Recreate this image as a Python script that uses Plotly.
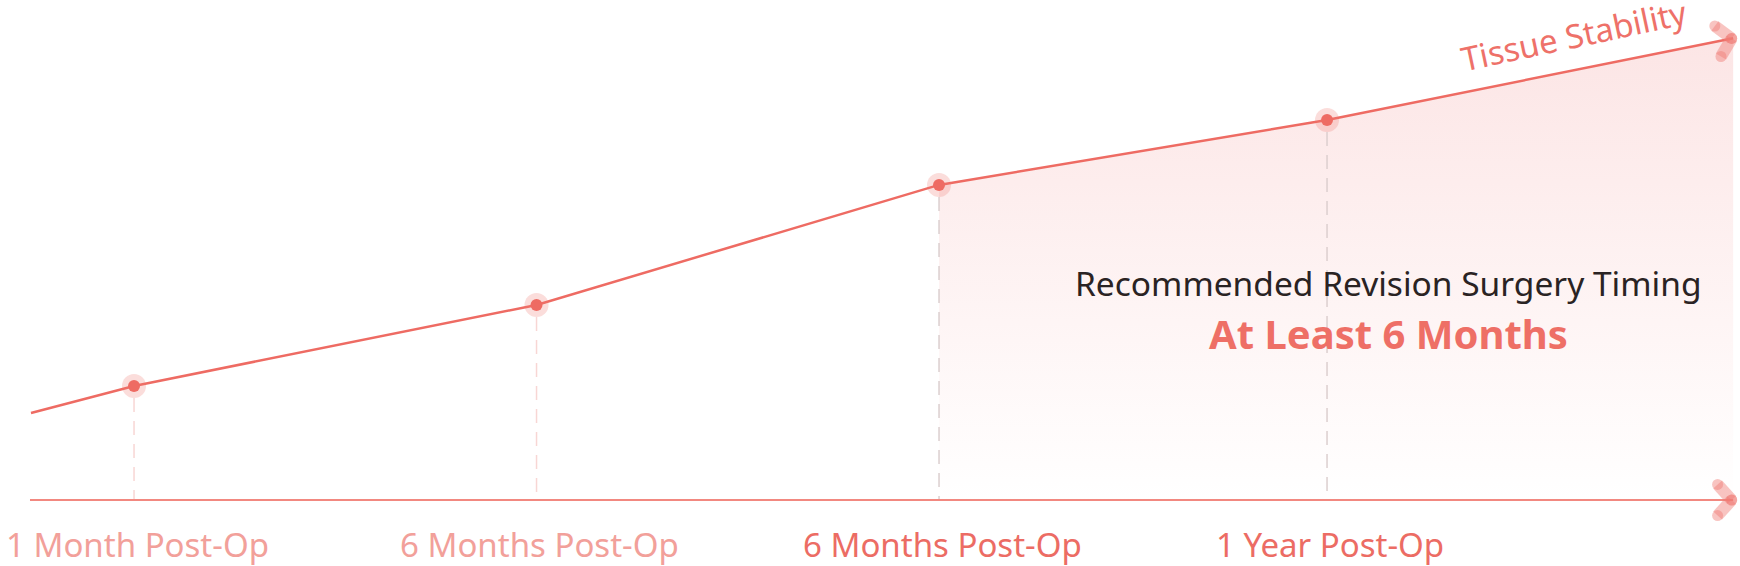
import math
import plotly.graph_objects as go

# ---- data ----
stages = ["1 Month Post-Op", "6 Months Post-Op", "6 Months Post-Op", "1 Year Post-Op"]
stage_x = [0.0, 1.0, 2.0, 2.964]
stability = [24.8, 42.4, 68.5, 82.6]
line_start_x, line_start_y = -0.256, 18.9
line_end_x, line_end_y = 3.973, 100.4
recommend_from_index = 2
axis_label = "Tissue Stability"
note_title = "Recommended Revision Surgery Timing"
note_value = "At Least 6 Months"

# ---- styling ----
W, H = 1740, 566
XR = [-0.333, 3.990]
YR = [-14.35, 108.7]
RED = "#ee6b63"
LIGHT_LABEL = "#f2a09a"
DARK_LABEL = "#ec6c64"
FONT = "Noto Sans"

px_per_x = W / (XR[1] - XR[0])
px_per_y = H / (YR[1] - YR[0])

def offset(x, y, dpx, dpy):
    """shift a data point by screen pixel offsets (dpy positive = down)"""
    return x + dpx / px_per_x, y - dpy / px_per_y

fig = go.Figure()

# gradient fill for recommended zone
fx = stage_x[recommend_from_index:] + [line_end_x]
fy = stability[recommend_from_index:] + [line_end_y]
fig.add_trace(go.Scatter(
    x=fx, y=fy, mode="lines", line=dict(width=0), fill="tozeroy",
    fillgradient=dict(type="vertical", start=0, stop=100,
                      colorscale=[[0, "#ffffff"], [0.08, "#fffdfd"], [1, "#fce5e5"]]),
    hoverinfo="skip", showlegend=False))

# dashed drop lines
for i, (x, y) in enumerate(zip(stage_x, stability)):
    col = "#f8d6d4" if i < recommend_from_index else "#dccfcf"
    _, ytop = offset(x, y, 0, 12)
    fig.add_trace(go.Scatter(x=[x, x], y=[ytop, 0], mode="lines",
                             line=dict(color=col, width=1.5, dash="14px,9px"),
                             hoverinfo="skip", showlegend=False))

# baseline axis
ax0, _ = offset(line_start_x, 0, -1, 0)
fig.add_trace(go.Scatter(x=[ax0, line_end_x], y=[0, 0], mode="lines",
                         line=dict(color="#f28880", width=2),
                         hoverinfo="skip", showlegend=False))

# main line
fig.add_trace(go.Scatter(
    x=[line_start_x] + stage_x + [line_end_x],
    y=[line_start_y] + stability + [line_end_y],
    mode="lines", line=dict(color=RED, width=2.5),
    hoverinfo="skip", showlegend=False))

# markers: halo + dot
fig.add_trace(go.Scatter(x=stage_x, y=stability, mode="markers",
                         marker=dict(size=24, color="rgba(240,120,112,0.25)", line=dict(width=0)),
                         hoverinfo="skip", showlegend=False))
fig.add_trace(go.Scatter(x=stage_x, y=stability, mode="markers",
                         marker=dict(size=12, color=RED, line=dict(width=0)),
                         hoverinfo="skip", showlegend=False))

# chevron arrowheads
def chevron(tx, ty, angle_deg, arm=22):
    a = math.radians(angle_deg)
    fwd = (math.cos(a), -math.sin(a))
    back = (-fwd[0], -fwd[1])
    ends = []
    for s in (45, -45):
        r = math.radians(s)
        dx = back[0] * math.cos(r) - back[1] * math.sin(r)
        dy = back[0] * math.sin(r) + back[1] * math.cos(r)
        ends.append(offset(tx, ty, dx * arm, dy * arm))
    tip = offset(tx, ty, -1.5 * fwd[0], -1.5 * fwd[1])
    for ex, ey in ends:
        fig.add_trace(go.Scatter(x=[ex, tip[0]], y=[ey, tip[1]], mode="lines+markers",
                                 line=dict(color="rgba(240,125,118,0.45)", width=12),
                                 marker=dict(size=11, color="rgba(240,125,118,0.45)", line=dict(width=0)),
                                 cliponaxis=False,
                                 hoverinfo="skip", showlegend=False))

slope_angle = math.degrees(math.atan2((line_end_y - stability[-1]) * px_per_y,
                                      (line_end_x - stage_x[-1]) * px_per_x))
chevron(line_end_x, line_end_y, slope_angle)
chevron(line_end_x, 0, 0)

# stage labels
annotations = []
for i, (x, lab) in enumerate(zip(stage_x, stages)):
    lx, ly = offset(x, 0, 3, 45)
    annotations.append(dict(x=lx, y=ly, text=lab, showarrow=False, xanchor="center", yanchor="middle",
                            borderpad=0,
                            font=dict(family=FONT, size=33,
                                      color=LIGHT_LABEL if i < recommend_from_index else DARK_LABEL)))

# axis title along the line
tx, ty = offset(line_end_x, line_end_y, -160, -3)
annotations.append(dict(x=tx, y=ty, text=axis_label, showarrow=False, textangle=-12,
                        xanchor="center", yanchor="middle", borderpad=0,
                        font=dict(family=FONT, size=33, color="#ee7169")))

# note
nx, _ = offset(line_end_x, 0, -345, 0)
annotations.append(dict(x=nx, y=offset(0, 0, 0, -217)[1], text=note_title, showarrow=False,
                        xanchor="center", yanchor="middle",
                        font=dict(family=FONT, size=33.5, color="#2a2323")))
annotations.append(dict(x=nx, y=offset(0, 0, 0, -166)[1], text="<b>" + note_value + "</b>", showarrow=False,
                        xanchor="center", yanchor="middle",
                        font=dict(family=FONT, size=40, color="#ee6f66")))

fig.update_layout(
    width=W, height=H, margin=dict(l=0, r=0, t=0, b=0),
    paper_bgcolor="white", plot_bgcolor="white",
    xaxis=dict(range=XR, visible=False, fixedrange=True),
    yaxis=dict(range=YR, visible=False, fixedrange=True),
    annotations=annotations, showlegend=False, hovermode=False,
)
fig.write_html("out.html", config={"displayModeBar": False, "staticPlot": True},
               post_script="document.body.style.margin='0';document.body.style.overflow='hidden';")
